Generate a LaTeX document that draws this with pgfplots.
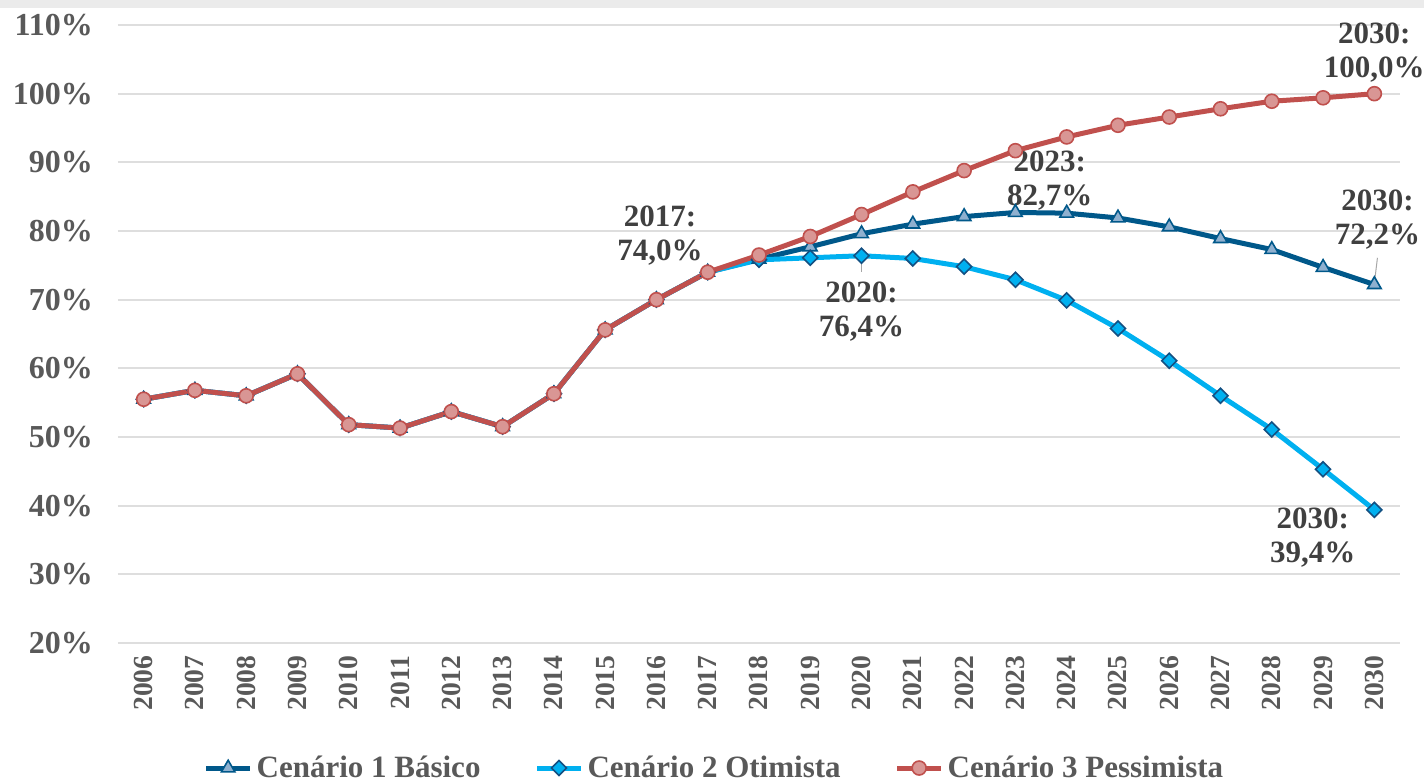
\documentclass[border=0pt]{standalone}
\usepackage{pgfplots}
\pgfplotsset{compat=1.18}
\usepackage{fontspec}
\setmainfont{Liberation Serif}
\definecolor{cbas}{RGB}{0,88,138}
\definecolor{cbasfill}{RGB}{143,176,207}
\definecolor{cotm}{RGB}{0,176,240}
\definecolor{cotmedge}{RGB}{20,80,130}
\definecolor{cpes}{RGB}{192,80,77}
\definecolor{cpesfill}{RGB}{217,150,148}
\definecolor{tickc}{RGB}{89,89,89}
\definecolor{annc}{RGB}{64,64,64}
\definecolor{gridc}{RGB}{222,222,222}
\definecolor{topgray}{RGB}{235,235,235}
\usepackage{pgfplotstable}
\pgfplotstableread{
year bas otm pes
2006 55.5 55.5 55.5
2007 56.8 56.8 56.8
2008 56.0 56.0 56.0
2009 59.2 59.2 59.2
2010 51.8 51.8 51.8
2011 51.3 51.3 51.3
2012 53.7 53.7 53.7
2013 51.5 51.5 51.5
2014 56.3 56.3 56.3
2015 65.6 65.6 65.6
2016 70.0 70.0 70.0
2017 74.0 74.0 74.0
2018 75.9 75.8 76.5
2019 77.7 76.1 79.2
2020 79.6 76.4 82.4
2021 81.0 76.0 85.7
2022 82.1 74.8 88.8
2023 82.7 72.9 91.7
2024 82.6 69.9 93.7
2025 81.9 65.8 95.4
2026 80.6 61.1 96.6
2027 78.9 56.0 97.8
2028 77.3 51.1 98.9
2029 74.7 45.3 99.4
2030 72.2 39.4 100.0
}\data
\begin{document}
\begin{tikzpicture}
\useasboundingbox (-59pt,-69.5pt) rectangle (653pt,321.5pt);
\fill[topgray] (-59pt,317.5pt) rectangle (653pt,321.5pt);
\begin{axis}[
  at={(0,0)}, anchor=south west,
  scale only axis, width=641pt, height=309pt,
  xmin=2005.5, xmax=2030.5, ymin=20, ymax=110,
  clip=false,
  axis line style={draw=none},
  major tick length=0pt,
  ymajorgrids, grid style={gridc, line width=1pt},
  xtick={2006,2007,...,2030},
  ytick={20,30,...,110},
  /pgf/number format/assume math mode=true,
  x tick label style={/pgf/number format/1000 sep={}, rotate=90, anchor=east, font=\fontsize{13.8}{14}\selectfont\bfseries, text=tickc, inner sep=2pt, xshift=-4pt},
  yticklabel={\pgfmathprintnumber{\tick}\%},
  y tick label style={font=\fontsize{16}{17}\selectfont\bfseries, text=tickc, xshift=-9pt},
  legend columns=3,
  legend style={at={(axis description cs:0.466,-0.2023)}, anchor=center, draw=none, fill=none,
    font=\fontsize{15.5}{16}\selectfont\bfseries, text=tickc,
    /tikz/every even column/.append style={column sep=25pt}},
  legend image code/.code={\draw[#1, mark repeat=2, mark phase=2] plot coordinates {(0pt,0pt) (11pt,0pt) (22pt,0pt)};},
]
\addplot[cbas, line width=2.5pt, mark=triangle*, mark size=3.9pt, mark options={fill=cbasfill, draw=cbas, line width=0.8pt}] table[x=year,y=bas] {\data};
\addlegendentry{Cenário 1 Básico}
\addplot[cotm, line width=2.5pt, mark=square*, mark size=2.65pt, mark options={rotate=45, fill=cotm, draw=cotmedge, line width=0.8pt}] table[x=year,y=otm] {\data};
\addlegendentry{Cenário 2 Otimista}
\addplot[cpes, line width=2.5pt, mark=*, mark size=3.5pt, mark options={fill=cpesfill, draw=cpes, line width=0.8pt}] table[x=year,y=pes] {\data};
\addlegendentry{Cenário 3 Pessimista}
\draw[gray!70, line width=0.5pt] (axis cs:2020,76.4) -- (axis cs:2020,74.1);
\draw[gray!70, line width=0.5pt] (axis cs:2030.06,76.1) -- (axis cs:2030,72.4);
\tikzset{ann/.style={align=center, text=annc, font=\fontsize{15.5}{17}\selectfont\bfseries, inner sep=0pt}}
\node[ann] at (axis cs:2016.07,79.3) {2017:\\74,0\%};
\node[ann] at (axis cs:2020.0,68.3) {2020:\\76,4\%};
\node[ann] at (axis cs:2023.67,87.4) {2023:\\82,7\%};
\node[ann] at (axis cs:2030.0,106.0) {2030:\\100,0\%};
\node[ann] at (axis cs:2030.06,81.6) {2030:\\72,2\%};
\node[ann] at (axis cs:2028.8,35.4) {2030:\\39,4\%};
\end{axis}
\end{tikzpicture}
\end{document}
